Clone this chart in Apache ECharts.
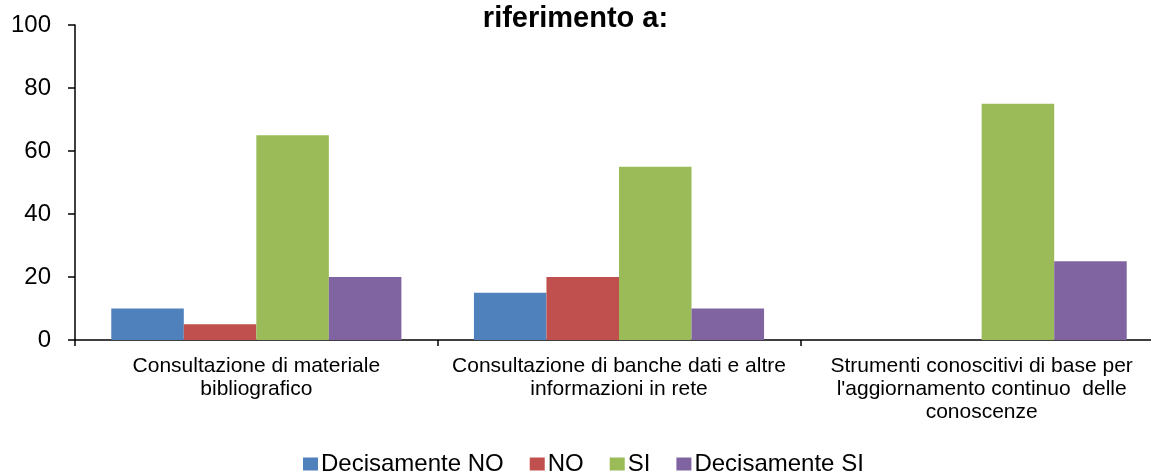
<!DOCTYPE html>
<html>
<head>
<meta charset="utf-8">
<script src="https://cdn.jsdelivr.net/npm/echarts@6/dist/echarts.min.js"></script>
<style>
html, body { margin: 0; padding: 0; background: #fff; }
#chart { width: 1151px; height: 476px; }
</style>
</head>
<body>
<div id="chart"></div>
<script>
const categories = [
  'Consultazione di materiale\nbibliografico',
  'Consultazione di banche dati e altre\ninformazioni in rete',
  "Strumenti conoscitivi di base per\nl'aggiornamento continuo  delle\nconoscenze"
]
const seriesNames = ['Decisamente NO', 'NO', 'SI', 'Decisamente SI']
const decisamenteNo = [10, 15, 0]
const no = [5, 20, 0]
const si = [65, 55, 75]
const decisamenteSi = [20, 10, 25]
const yTicks = [0, 20, 40, 60, 80, 100]

const font = 'Liberation Sans, Arial, sans-serif'
const bar = (name, data, color) => ({
  name: name,
  type: 'bar',
  data: data,
  barGap: '0%',
  barCategoryGap: '20%',
  itemStyle: { color: color },
  emphasis: { disabled: true }
})

const chart = echarts.init(document.getElementById('chart'))
chart.setOption({
  animation: false,
  title: {
    text: 'riferimento a:',
    left: 'center',
    top: -1,
    textStyle: { fontFamily: font, fontSize: 29, fontWeight: 'bold', color: '#000' }
  },
  legend: {
    top: 452,
    left: 303,
    padding: 0,
    itemWidth: 15,
    itemHeight: 13,
    itemGap: 26,
    icon: 'rect',
    textStyle: { fontFamily: font, fontSize: 24, color: '#000', padding: [0, 0, 0, -2] }
  },
  grid: { left: 75, width: 1088, top: 25, bottom: 136, outerBoundsMode: 'none' },
  xAxis: {
    type: 'category',
    data: categories,
    axisLine: { lineStyle: { color: '#000', width: 1.5 } },
    axisTick: { show: true, length: 6, lineStyle: { color: '#000', width: 1.5 } },
    axisLabel: { interval: 0, fontFamily: font, fontSize: 21, color: '#000', lineHeight: 23, margin: 15 }
  },
  yAxis: {
    type: 'value',
    min: yTicks[0],
    max: yTicks[yTicks.length - 1],
    interval: 20,
    splitLine: { show: false },
    axisLine: { show: true, lineStyle: { color: '#000', width: 1.5 } },
    axisTick: { show: true, length: 7, lineStyle: { color: '#000', width: 1.5 } },
    axisLabel: { fontFamily: font, fontSize: 24, color: '#000', margin: 24 }
  },
  series: [
    bar(seriesNames[0], decisamenteNo, '#4f81bd'),
    bar(seriesNames[1], no, '#c0504d'),
    bar(seriesNames[2], si, '#9bbb59'),
    bar(seriesNames[3], decisamenteSi, '#8064a2')
  ]
})
</script>
</body>
</html>
